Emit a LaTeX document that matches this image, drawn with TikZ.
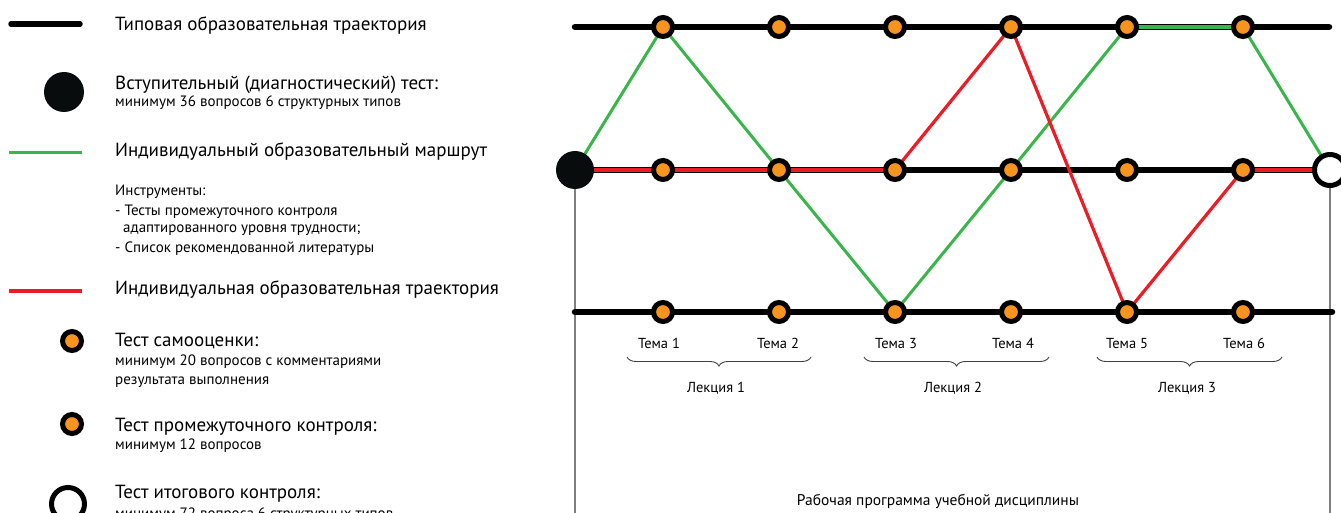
\documentclass[tikz,border=0pt]{standalone}
\usepackage{fontspec}
\setmainfont{PT Sans}
\usetikzlibrary{decorations.pathreplacing}
\definecolor{lorange}{HTML}{F7941D}
\definecolor{lgreen}{HTML}{3AB54A}
\definecolor{lred}{HTML}{ED1C24}
\definecolor{lgray}{HTML}{7F7F7F}
\definecolor{ldisc}{HTML}{080C0C}
\tikzset{
  blackline/.style={line width=6.5pt, black, line cap=round},
  greenline/.style={line width=3pt, lgreen},
  redline/.style={line width=3.2pt, lred},
  redmid/.style={line width=3.6pt, lred},
  greenmid/.style={line width=3.6pt, lgreen},
  grayline/.style={line width=1.4pt, lgray},
  topic/.style={circle, fill=lorange, draw=black, line width=5pt, minimum size=19pt, inner sep=0pt},
  startdisc/.style={circle, fill=ldisc, draw=none, minimum size=38pt, inner sep=0pt},
  finaldisc/.style={circle, fill=white, draw=black, line width=5pt, minimum size=31pt, inner sep=0pt},
  bigtxt/.style={anchor=base west, inner sep=0pt, font=\fontsize{19}{22}\selectfont},
  smalltxt/.style={anchor=base west, inner sep=0pt, font=\fontsize{15}{18}\selectfont},
  lbl/.style={anchor=base, inner sep=0pt, font=\fontsize{14.5}{17}\selectfont},
  bracestyle/.style={decorate, decoration={brace, mirror, amplitude=9pt}, line width=0.9pt, black!75},
}
\begin{document}
\begin{tikzpicture}[x=1pt,y=-1pt]
\useasboundingbox (0,0) rectangle (1341,513);
\clip (0,0) rectangle (1341,513);

% ---------- legend ----------
\coordinate (lgA) at (11,24);  \coordinate (lgB) at (80,24);
\draw[blackline, line width=5.5pt] (lgA) -- (lgB);
\node[bigtxt] (lt1) at (115,31) {Типовая образовательная траектория};

\node[startdisc, minimum size=40pt] (ld) at (64,92) {};
\node[bigtxt] (lt2) at (115,90) {Вступительный (диагностический) тест:};
\node[smalltxt] (ls2) at (115,107) {минимум 36 вопросов 6 структурных типов};

\coordinate (lgC) at (9,153);  \coordinate (lgD) at (82,153);
\draw[greenline] (lgC) -- (lgD);
\node[bigtxt] (lt3) at (115,157) {Индивидуальный образовательный маршрут};
\node[smalltxt] (ls3a) at (115,196) {Инструменты:};
\node[smalltxt] (ls3b) at (115,215) {- Тесты промежуточного контроля};
\node[smalltxt] (ls3c) at (123,233) {адаптированного уровня трудности;};
\node[smalltxt] (ls3d) at (115,252) {- Список рекомендованной литературы};

\coordinate (lgE) at (9,291);  \coordinate (lgF) at (82,291);
\draw[redline] (lgE) -- (lgF);
\node[bigtxt] (lt4) at (115,294) {Индивидуальная образовательная траектория};

\node[topic] (lo1) at (72,341) {};
\node[bigtxt] (lt5) at (115,346) {Тест самооценки:};
\node[smalltxt] (ls5a) at (115,365) {минимум 20 вопросов с комментариями};
\node[smalltxt] (ls5b) at (115,384) {результата выполнения};

\node[topic] (lo2) at (72,424) {};
\node[bigtxt] (lt6) at (115,431) {Тест промежуточного контроля:};
\node[smalltxt] (ls6) at (115,449) {минимум 12 вопросов};

\node[finaldisc, minimum size=33pt] (lf) at (68,504) {};
\node[bigtxt] (lt7) at (115,498) {Тест итогового контроля:};
\node[smalltxt] (ls7) at (115,518) {минимум 72 вопроса 6 структурных типов};

% ---------- grid coordinates ----------
\coordinate (T0) at (575,27);   \coordinate (TE) at (1329,27);
\coordinate (B0) at (575,312);  \coordinate (BE) at (1332,312);
\coordinate (M0) at (575,170);  \coordinate (ME) at (1330,170);
\foreach \i/\x in {1/663,2/779,3/895,4/1011,5/1127,6/1243}{
  \coordinate (T\i) at (\x,27);
  \coordinate (M\i) at (\x,170);
  \coordinate (B\i) at (\x,312);
}
\coordinate (G0) at (575,530);
\coordinate (GE) at (1330,530);

% vertical frame lines
\draw[grayline] (M0) -- (G0);
\draw[grayline] (ME) -- (GE);

% standard trajectories
\draw[blackline] (T0) -- (TE);
\draw[blackline] (M0) -- (ME);
\draw[blackline] (B0) -- (BE);

% coloured segments along lines
\draw[redmid] (M0) -- (M3);
\draw[redmid] (M6) -- (ME);
\draw[greenmid] (T5) -- (T6);

% individual route (green)
\draw[greenline] (M0) -- (T1) -- (M2) -- (B3) -- (M4) -- (T5);
\draw[greenline] (T6) -- (ME);

% individual trajectory (red)
\draw[redline] (M3) -- (T4) -- (B5) -- (M6);

% nodes
\foreach \i in {1,...,6}{
  \node[topic] (t\i) at (T\i) {};
  \node[topic] (m\i) at (M\i) {};
  \node[topic] (b\i) at (B\i) {};
}
\node[startdisc] (start) at (M0) {};
\node[finaldisc, minimum size=31pt] (final) at (ME) {};

% topic labels
\foreach \i/\x in {1/659,2/778,3/896,4/1013,5/1127,6/1244}{
  \node[lbl] (tema\i) at (\x,348) {Тема \i};
}

% braces
\draw[bracestyle] (627,357) -- (811,357);
\draw[bracestyle] (864,357) -- (1049,357);
\draw[bracestyle] (1097,357) -- (1282,357);
\node[lbl] (lec1) at (716,392) {Лекция 1};
\node[lbl] (lec2) at (953,392) {Лекция 2};
\node[lbl] (lec3) at (1187,392) {Лекция 3};

\node[lbl, font=\fontsize{15.5}{18}\selectfont] (rp) at (938,505) {Рабочая программа учебной дисциплины};
\end{tikzpicture}
\end{document}
